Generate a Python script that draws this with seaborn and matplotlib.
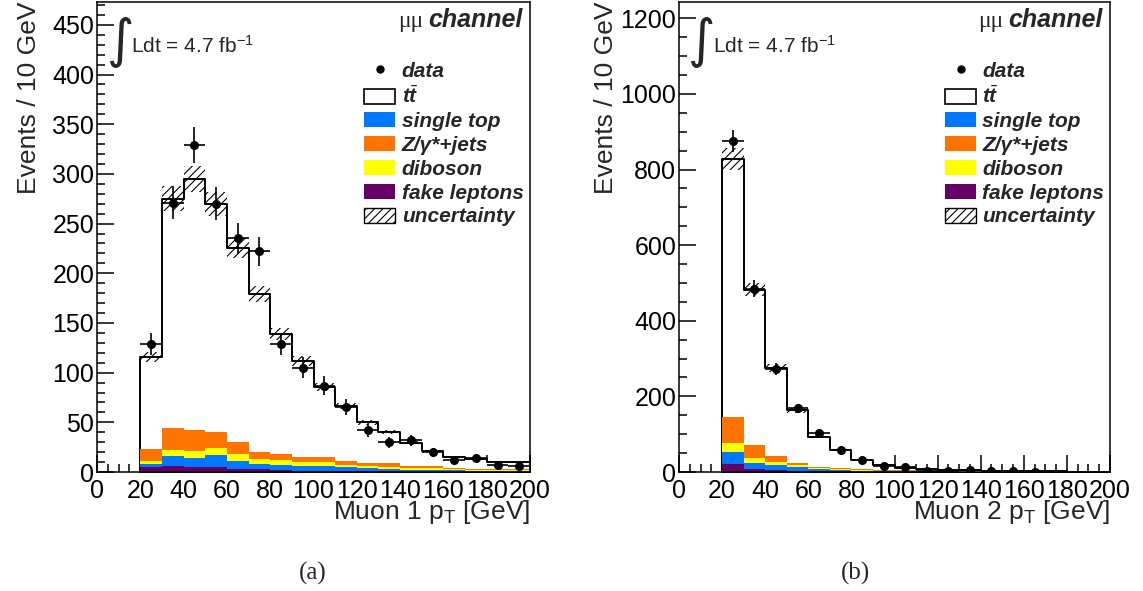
import numpy as np
import pandas as pd
import matplotlib
matplotlib.use('Agg')
import matplotlib.pyplot as plt
from matplotlib.patches import Patch
from matplotlib.lines import Line2D
from matplotlib.ticker import MultipleLocator
from matplotlib.font_manager import FontProperties
import seaborn as sns

# binning: 10 GeV bins from 20 to 200 GeV
bin_edges = [20, 30, 40, 50, 60, 70, 80, 90, 100, 110, 120, 130, 140, 150, 160, 170, 180, 190, 200]
legend_labels = ['data', r'$t\bar{t}$', 'single top', 'Z/γ*+jets', 'diboson', 'fake leptons', 'uncertainty']
bkg_colors = ['#660066', '#0078ff', '#ffff00', '#ff7300']  # fake, single top, diboson, Z+jets

# (a) leading muon pT
mu1_data = [129, 271, 329, 270, 235, 222, 129, 105, 87, 65, 42, 30, 32, 20, 12, 14, 7, 6]
mu1_ttbar = [93, 231, 253, 230, 195, 159, 121, 96, 71, 55, 41, 31, 23, 15, 11, 9.6, 7.3, 7.3]
mu1_single_top = [2.6, 9.6, 8.6, 11.6, 8, 5.3, 5.4, 5.1, 4.7, 3.7, 3, 2.3, 1.8, 1.6, 1.4, 1, 0.8, 0.8]
mu1_zjets = [12.3, 22, 20.5, 16, 12, 7, 6, 5.4, 5.1, 4, 3, 3.6, 2.4, 2, 1, 1.1, 0.7, 0.7]
mu1_diboson = [2.7, 6, 7.5, 7, 6.6, 5, 4.6, 3.6, 3.7, 2.7, 2.3, 2.4, 1.7, 1.7, 1, 1, 1, 1]
mu1_fake = [5.4, 6.4, 5.4, 5.4, 3.4, 2.7, 2, 1.3, 1.3, 1, 0.7, 0.7, 0.5, 0.4, 0.3, 0.3, 0.2, 0.2]
mu1_rel_unc = 0.045

# (b) subleading muon pT
mu2_data = [876, 485, 273, 168, 104, 59, 31.6, 16, 12, 3.5, 3.5, 4.4, 2, 2, 1, 0, 0, 0]
mu2_ttbar = [682, 411, 233, 139, 80, 47, 24.6, 12.7, 6.6, 3.5, 2.4, 2.4, 1.7, 1, 0.8, 0.5, 0.2, 0.2]
mu2_single_top = [32.5, 17.6, 12.2, 8.8, 5.4, 3.5, 2.5, 1.8, 1.5, 1.1, 0.9, 0.7, 0.6, 0.5, 0.4, 0.3, 0.3, 0.2]
mu2_zjets = [68.6, 34, 16, 6.2, 2.5, 3.4, 2, 1.8, 1.4, 1.2, 0.8, 0.5, 0.5, 0.5, 0.4, 0.3, 0.2, 0.3]
mu2_diboson = [23.5, 12.4, 8.5, 5.2, 2.5, 2.7, 1.5, 1, 1, 0.8, 0.6, 0.5, 0.5, 0.4, 0.3, 0.3, 0.2, 0.2]
mu2_fake = [21, 7, 5.3, 3.5, 2.6, 1.8, 1, 0.7, 0.5, 0.4, 0.3, 0.3, 0.2, 0.2, 0.1, 0.1, 0.1, 0.1]
mu2_rel_unc = 0.035

sns.set_theme(style='ticks')
plt.rcParams['font.family'] = ['Liberation Sans', 'DejaVu Sans']
plt.rcParams['mathtext.fontset'] = 'custom'
plt.rcParams['mathtext.rm'] = 'Liberation Sans'
plt.rcParams['mathtext.it'] = 'Liberation Sans:italic:bold'
plt.rcParams['hatch.linewidth'] = 0.8


def draw_panel(ax, data, ttbar, single_top, zjets, diboson, fake, rel_unc, ymax, ymajor, yminor, xlabel, ylab_x):
    edges = np.array(bin_edges, dtype=float)
    centres = (edges[:-1] + edges[1:]) / 2
    layers = np.array([fake, single_top, diboson, zjets, ttbar])
    cum = np.cumsum(layers, axis=0)
    total = cum[-1]
    df = pd.DataFrame({'pt': centres, 'total': total})
    for i in range(4):
        df[f'cum{i}'] = cum[i]

    # full stack outline (ttbar on top), then each cumulative layer over it
    sns.histplot(data=df, x='pt', weights='total', bins=bin_edges, element='step', fill=True,
                 facecolor='white', edgecolor='black', linewidth=1.4, alpha=1, ax=ax)
    for i in [3, 2, 1, 0]:
        sns.histplot(data=df, x='pt', weights=f'cum{i}', bins=bin_edges, element='step', fill=True,
                     color=bkg_colors[i], linewidth=0, alpha=1, ax=ax)

    lo = np.append(total * (1 - rel_unc), total[-1] * (1 - rel_unc))
    hi = np.append(total * (1 + rel_unc), total[-1] * (1 + rel_unc))
    ax.fill_between(edges, lo, hi, step='post', facecolor='none', edgecolor='black',
                    hatch='////', linewidth=0)

    d = np.array(data, dtype=float)
    m = d > 0
    ax.errorbar(centres[m], d[m], yerr=np.sqrt(d[m]), xerr=5, fmt='o', color='black',
                markersize=5.5, elinewidth=1.2, capsize=0, zorder=5)

    ax.set_xlim(0, 200)
    ax.set_ylim(0, ymax)
    ax.xaxis.set_major_locator(MultipleLocator(20))
    ax.xaxis.set_minor_locator(MultipleLocator(5))
    ax.yaxis.set_major_locator(MultipleLocator(ymajor))
    ax.yaxis.set_minor_locator(MultipleLocator(yminor))
    ax.tick_params(which='both', direction='in', width=1.1, colors='black', labelsize=18,
                   top=False, right=False)
    ax.tick_params(which='major', length=12)
    ax.tick_params(which='minor', length=6)
    ax.tick_params(axis='x', pad=5)
    ax.tick_params(axis='y', pad=2)
    for s in ax.spines.values():
        s.set_linewidth(1.1)
        s.set_color('black')

    ax.set_xlabel(xlabel, loc='right', fontsize=19)
    ax.xaxis.set_label_coords(1.0, -0.055)
    ax.set_ylabel('Events / 10 GeV', loc='top', fontsize=19)
    ax.yaxis.set_label_coords(ylab_x, 1.0)

    # luminosity
    ax.text(0.022, 0.915, '∫', transform=ax.transAxes, family='DejaVu Sans', fontsize=38,
            ha='left', va='center')
    ax.text(0.078, 0.891, r'Ldt = 4.7 fb$^{-1}$', transform=ax.transAxes, fontsize=15,
            ha='left', va='baseline')

    # channel label
    ch = ax.text(0.984, 0.947, 'channel', transform=ax.transAxes, fontsize=18,
                 style='italic', weight='bold', ha='right', va='baseline')
    ax.annotate('μμ', xy=(0, 0), xycoords=ch, xytext=(-4, 0), textcoords='offset points',
                family='Liberation Serif', fontsize=17, ha='right', va='bottom')

    handles = [Line2D([], [], marker='o', ls='none', color='black', markersize=5),
               Patch(facecolor='white', edgecolor='black', linewidth=1.2),
               Patch(facecolor=bkg_colors[1], linewidth=0),
               Patch(facecolor=bkg_colors[3], linewidth=0),
               Patch(facecolor=bkg_colors[2], linewidth=0),
               Patch(facecolor=bkg_colors[0], linewidth=0),
               Patch(facecolor='white', edgecolor='black', hatch='////', linewidth=1.0)]
    ax.legend(handles, legend_labels, loc='upper left', bbox_to_anchor=(0.617, 0.873),
              frameon=False, prop=FontProperties(family='Liberation Sans', style='italic',
                                                 weight='bold', size=15),
              handlelength=1.5, handleheight=0.72, handletextpad=0.3, labelspacing=0.23,
              borderpad=0, borderaxespad=0)


fig = plt.figure(figsize=(11.43, 5.91), dpi=100)
ax1 = fig.add_axes([97 / 1143, 119 / 591, 433 / 1143, 470 / 591])
ax2 = fig.add_axes([679 / 1143, 119 / 591, 431 / 1143, 470 / 591])

draw_panel(ax1, mu1_data, mu1_ttbar, mu1_single_top, mu1_zjets, mu1_diboson, mu1_fake,
           mu1_rel_unc, 473, 50, 10, r'Muon 1 p$_\mathrm{T}$ [GeV]', -0.13)
draw_panel(ax2, mu2_data, mu2_ttbar, mu2_single_top, mu2_zjets, mu2_diboson, mu2_fake,
           mu2_rel_unc, 1243, 200, 50, r'Muon 2 p$_\mathrm{T}$ [GeV]', -0.1415)

fig.text(313 / 1143, 1 - 573 / 591, '(a)', ha='center', va='center',
         family='Liberation Serif', fontsize=18)
fig.text(855 / 1143, 1 - 573 / 591, '(b)', ha='center', va='center',
         family='Liberation Serif', fontsize=18)

fig.savefig('out.png', dpi=100, facecolor='white')
